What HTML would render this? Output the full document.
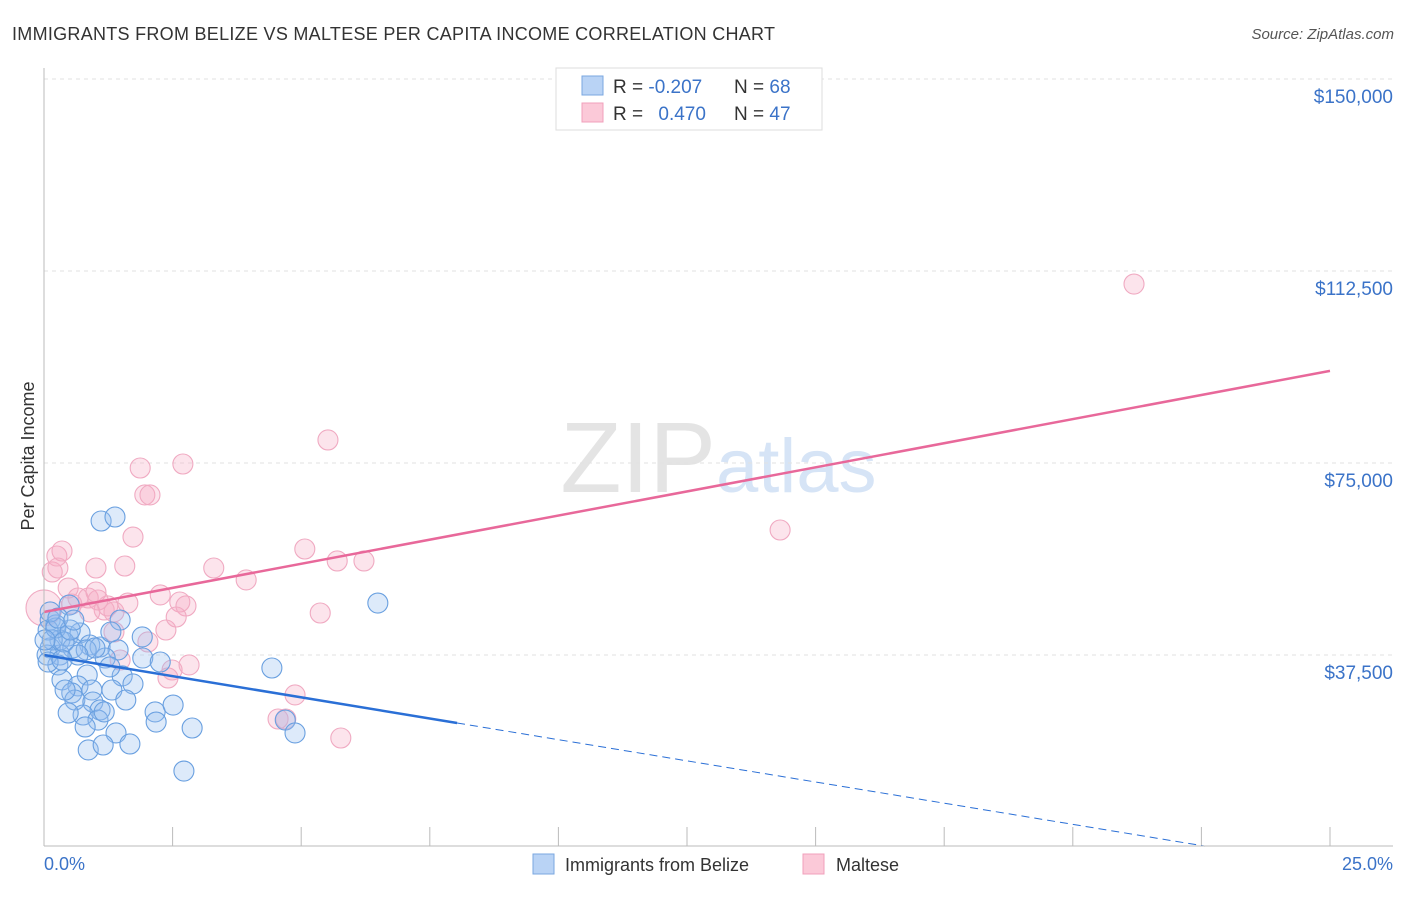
<!DOCTYPE html>
<html><head><meta charset="utf-8"><style>
body{margin:0;background:#fff;font-family:"Liberation Sans",sans-serif}
svg text{font-family:"Liberation Sans",sans-serif}
</style></head><body>
<svg id="chart" width="1406" height="892">
<text x="12" y="40" font-size="18" fill="#333" textLength="763">IMMIGRANTS FROM BELIZE VS MALTESE PER CAPITA INCOME CORRELATION CHART</text>
<text x="1394" y="39" font-size="15" fill="#555" font-style="italic" text-anchor="end">Source: ZipAtlas.com</text>
<text x="34" y="456" font-size="18" fill="#333" transform="rotate(-90 34 456)" text-anchor="middle">Per Capita Income</text>
<text x="716" y="492" font-size="100" fill="#e4e4e4" text-anchor="end" font-family="Liberation Serif">ZIP</text>
<text x="716" y="492" font-size="76" fill="#d6e4f6">atlas</text>
<g id="grid"></g><g id="pts"></g><g id="lines"></g>
<line x1="44" y1="68" x2="44" y2="846" stroke="#bbb"/>
<line x1="44" y1="846" x2="1393" y2="846" stroke="#bbb"/>
<text x="44" y="870" font-size="18" fill="#3b73c8">0.0%</text>
<text x="1393" y="870" font-size="18" fill="#3b73c8" text-anchor="end">25.0%</text>
<g>
<rect x="556" y="68" width="266" height="62" fill="#fff" stroke="#ddd"/>
<rect x="582" y="76" width="21" height="19" fill="#b9d3f5" stroke="#7aa7e0"/>
<rect x="582" y="103" width="21" height="19" fill="#fbc9d8" stroke="#f0a0bb"/>
<text x="613" y="93" font-size="19" fill="#333">R = <tspan fill="#3b73c8">-0.207</tspan></text>
<text x="734" y="93" font-size="19" fill="#333">N = <tspan fill="#3b73c8">68</tspan></text>
<text x="613" y="120" font-size="19" fill="#333">R = <tspan fill="#3b73c8" dx="10">0.470</tspan></text>
<text x="734" y="120" font-size="19" fill="#333">N = <tspan fill="#3b73c8">47</tspan></text>
</g>
<g>
<rect x="533" y="854" width="21" height="20" fill="#b9d3f5" stroke="#7aa7e0"/>
<text x="565" y="871" font-size="18" fill="#333">Immigrants from Belize</text>
<rect x="803" y="854" width="21" height="20" fill="#fbc9d8" stroke="#f0a0bb"/>
<text x="836" y="871" font-size="18" fill="#333">Maltese</text>
</g>
</svg>
<script>
const yTicks=[37500,75000,112500,150000];
const yTickLabels=["$37,500","$75,000","$112,500","$150,000"];
const blueX=[1.11,1.38,0.49,6.49,0.12,0.23,0.47,0.70,0.31,0.89,1.09,0.56,1.44,1.91,0.12,0.31,1.19,1.92,2.26,4.43,0.27,0.84,1.52,0.35,0.66,0.93,0.54,1.73,1.32,0.60,0.95,1.59,1.09,0.76,0.47,2.16,2.51,1.05,0.80,1.40,2.18,2.88,4.69,4.88,0.86,1.15,1.67,2.72,0.08,0.16,0.06,0.23,0.39,0.51,0.82,0.99,0.66,1.28,0.41,1.17,0.12,0.27,0.58,1.48,1.30,0.02,0.08,0.35];
const blueY=[63670,64450,47260,47650,44330,43360,41210,41800,40430,39450,39060,38870,38480,41020,38870,37500,36910,36910,36130,34960,35550,33590,33400,32620,31450,30660,30080,31840,30660,28710,28320,28710,26760,25780,26170,26370,27730,24800,23440,22270,24410,23240,24800,22270,18950,19920,20120,14840,42380,40430,37500,42770,40040,42380,38480,38870,37500,35160,30660,26370,45900,44720,44330,44330,41990,40430,36130,36520];
const pinkX=[0,0.16,0.25,0.35,0.27,0.47,1.01,0.66,0.86,0.54,1.17,1.05,1.36,1.24,1.63,1.57,1.73,1.87,1.96,2.06,2.70,5.52,5.07,5.70,6.22,3.93,3.30,2.26,2.64,2.76,2.37,2.57,2.02,2.49,2.82,2.41,1.48,1.36,1.01,5.37,4.88,4.55,4.70,5.77,14.31,21.19,0.89];
const pinkY=[46680,53710,56830,57810,54490,50580,54490,48630,48630,47460,46290,48240,45900,47070,47650,54880,60540,74020,68750,68750,74800,79490,58200,55860,55860,52150,54490,49220,47850,47070,42380,44920,40040,34570,35550,33010,36520,41990,49800,45700,29690,25000,25000,21290,61910,109950,45900];
const blueTrend=[37500,-1654];
const pinkTrend=[45900,1883.5];
const NS="http://www.w3.org/2000/svg";
const xs=p=>44+p*51.44, ys=v=>847-v/195.3;
function mk(t,a,p){const e=document.createElementNS(NS,t);for(const k in a)e.setAttribute(k,a[k]);p.appendChild(e);return e;}
const grid=document.getElementById('grid');
yTicks.forEach((v,i)=>{
  const l=mk('line',{x1:44,x2:1393,y1:ys(v),y2:ys(v),stroke:'#e2e2e2','stroke-dasharray':'4,4'},grid);
  
  
  const t=mk('text',{x:1393,y:ys(v)+24,'font-size':19,fill:'#3b73c8','text-anchor':'end'},grid);
  t.textContent=yTickLabels[i];
  
  
});
for(let i=0;i<=10;i++){
  const t=mk('line',{x1:44+i*128.6,x2:44+i*128.6,y1:827,y2:846,stroke:'#bbb'},grid);
  
  
}
const pts=document.getElementById('pts');
pinkX.forEach((x,i)=>{
  const c=mk('circle',{cx:xs(x),cy:ys(pinkY[i]),r:(x===0?18:10),fill:'rgba(246,170,196,0.32)',stroke:'#f0aac2','stroke-width':1.1},pts);
  
  
});
blueX.forEach((x,i)=>{
  const c=mk('circle',{cx:xs(x),cy:ys(blueY[i]),r:10,fill:'rgba(150,190,240,0.32)',stroke:'#6aa0e0','stroke-width':1.1},pts);
  
  
});
const lines=document.getElementById('lines');
const bl=mk('line',{x1:xs(0),y1:ys(blueTrend[0]),x2:xs(8.03),y2:ys(blueTrend[0]+blueTrend[1]*8.03),stroke:'#2a6fd6','stroke-width':2.5},lines);


const bd=mk('line',{x1:xs(8.03),y1:ys(blueTrend[0]+blueTrend[1]*8.03),x2:xs(22.57),y2:ys(blueTrend[0]+blueTrend[1]*22.57),stroke:'#2a6fd6','stroke-width':1,'stroke-dasharray':'8,5'},lines);


const pl=mk('line',{x1:xs(0),y1:ys(pinkTrend[0]),x2:xs(25),y2:ys(pinkTrend[0]+pinkTrend[1]*25),stroke:'#e8689a','stroke-width':2.5},lines);


</script>
</body></html>
